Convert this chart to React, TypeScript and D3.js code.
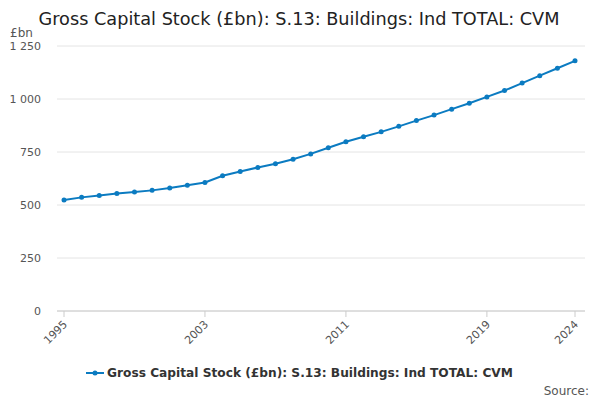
import React from 'react';
import { scaleLinear, line, format } from 'd3';

const years = Array.from({ length: 30 }, (_, i) => 1995 + i);
const values = [524, 536, 545, 554, 561, 569, 580, 593, 606, 638, 658, 677, 695, 716, 741, 770, 798, 822, 845, 871, 898, 924, 952, 980, 1010, 1040, 1075, 1110, 1145, 1180];
const yTicks = [0, 250, 500, 750, 1000, 1250];
const xTicks = [1995, 2003, 2011, 2019, 2024];
const seriesName = 'Gross Capital Stock (£bn): S.13: Buildings: Ind TOTAL: CVM';

const W = 600, H = 400;
const left = 64, right = 575, top = 46, bottom = 311;
const font = 'DejaVu Sans, sans-serif';
const blue = '#0b7bc1';

export default function App() {
    const x = scaleLinear().domain([1995, 2024]).range([left, right]);
    const y = scaleLinear().domain([0, 1250]).range([bottom, top]);
    const fmt = (v: number) => format(',')(v).replace(/,/g, ' ');
    const path = line<number>().x((_, i) => x(years[i])).y((d) => y(d))(values) || '';
    return (
        <svg width={W} height={H} style={{ position: 'absolute', left: 0, top: 0, fontFamily: font }}>
            <rect width={W} height={H} fill="#fff" />
            <text x={299} y={25} textAnchor="middle" fontSize={17.7} fill="#222">{seriesName}</text>
            <text x={10} y={37} fontSize={12} fill="#555">£bn</text>
            {yTicks.map((t) => (
                <g key={t}>
                    <line x1={57} x2={585} y1={y(t)} y2={y(t)} stroke="#e4e4e4" />
                    <text x={41} y={y(t) + 4} textAnchor="end" fontSize={11} fill="#555">{fmt(t)}</text>
                </g>
            ))}
            <line x1={57} x2={585} y1={bottom} y2={bottom} stroke="#ccc" />
            {xTicks.map((t) => (
                <g key={t}>
                    <line x1={x(t)} x2={x(t)} y1={bottom} y2={bottom + 6} stroke="#ccc" />
                    <text transform={`translate(${x(t) + 4},${bottom + 14}) rotate(-45)`} textAnchor="end" fontSize={11} fill="#555">{t}</text>
                </g>
            ))}
            <path d={path} fill="none" stroke={blue} strokeWidth={2} />
            {values.map((v, i) => (
                <circle key={i} cx={x(years[i])} cy={y(v)} r={2.5} fill={blue} />
            ))}
            <line x1={86} x2={104} y1={373} y2={373} stroke={blue} strokeWidth={2} />
            <circle cx={95} cy={373} r={2.5} fill={blue} />
            <text x={107} y={377} fontSize={12.2} fontWeight="bold" fill="#333">{seriesName}</text>
            <text x={589} y={395} textAnchor="end" fontSize={12} fill="#555">Source:</text>
        </svg>
    );
}
